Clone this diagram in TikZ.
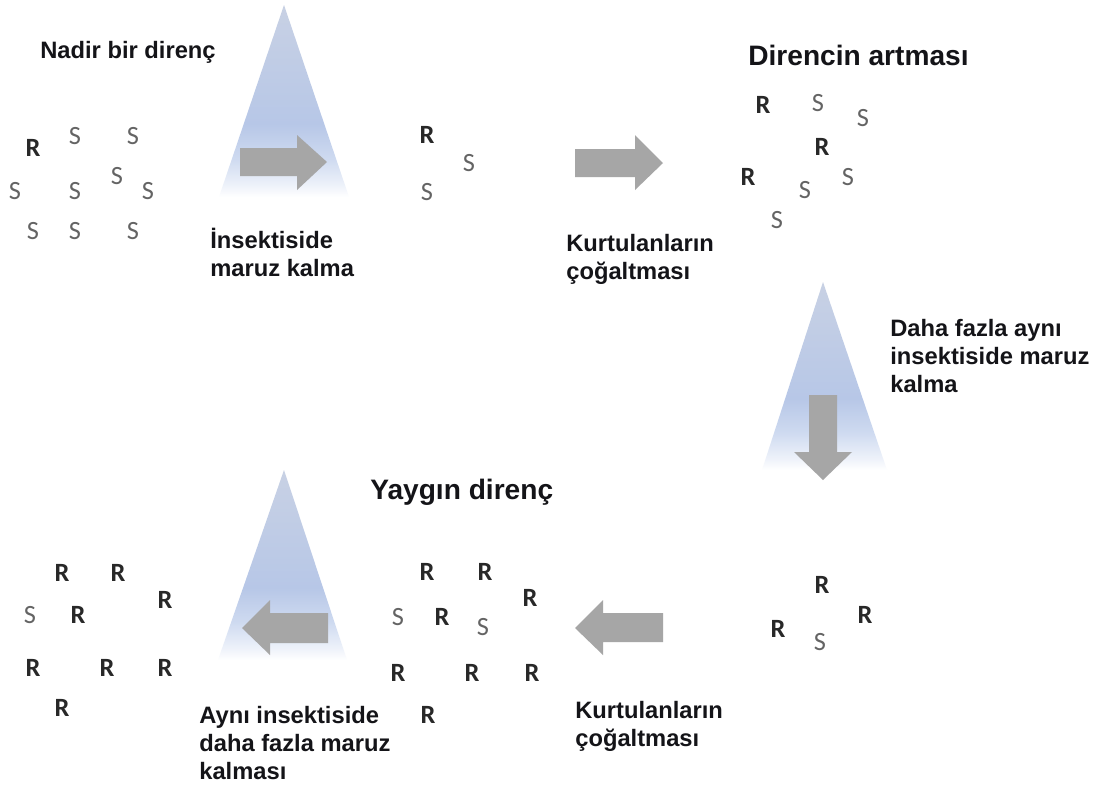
\documentclass[tikz,border=0pt]{standalone}
\usepackage{fontspec}
\setmainfont{Liberation Sans}
\newfontfamily\letterfont{Carlito}
\definecolor{labcol}{RGB}{20,20,24}
\definecolor{rcol}{RGB}{40,40,40}
\definecolor{scol}{RGB}{100,100,100}
\definecolor{arrowgray}{RGB}{166,166,166}
\definecolor{coneA}{RGB}{238,242,250}
\definecolor{coneB}{RGB}{206,218,240}
\definecolor{coneC}{RGB}{183,199,231}
\definecolor{coneD}{RGB}{200,209,228}
\pgfdeclareverticalshading{conefade}{100bp}{color(0bp)=(white); color(25bp)=(white); color(28bp)=(coneA); color(35bp)=(coneB); color(44bp)=(coneC); color(75bp)=(coneD); color(100bp)=(coneD)}
\begin{document}
\begin{tikzpicture}[x=0.02cm,y=-0.02cm,
  lab/.style={anchor=base west, inner sep=0, align=left, text=labcol,
    font=\bfseries\fontsize{13.5}{15.9}\selectfont},
  ttl/.style={anchor=base west, inner sep=0, text=labcol,
    font=\bfseries\fontsize{16}{19}\selectfont},
  rr/.style={inner sep=0, text=rcol, font=\letterfont\bfseries\fontsize{15}{16}\selectfont},
  ss/.style={inner sep=0, text=scol, font=\letterfont\fontsize{15}{16}\selectfont},
  cone/.style={shading=conefade},
  blockarrow/.style={fill=arrowgray, draw=none}]
\useasboundingbox[fill=white] (0,0) rectangle (1100,789);

% cones
\shade[cone] (284,5) -- (349,197) -- (219,197) -- cycle;
\shade[cone] (823,282) -- (887,470) -- (762,470) -- cycle;
\shade[cone] (284,470) -- (347,660) -- (218,660) -- cycle;

% block arrows
\fill[blockarrow] (240,148) -- (297,148) -- (297,135) -- (327,162) -- (297,190) -- (297,176) -- (240,176) -- cycle;
\fill[blockarrow] (575,149) -- (635,149) -- (635,135) -- (663,163) -- (635,190) -- (635,177) -- (575,177) -- cycle;
\fill[blockarrow] (809,395) -- (837,395) -- (837,452) -- (852,452) -- (823,480) -- (794,452) -- (809,452) -- cycle;
\fill[blockarrow] (328,613) -- (270,613) -- (270,600) -- (242,628) -- (270,655) -- (270,643) -- (328,643) -- cycle;
\fill[blockarrow] (663,613) -- (603,613) -- (603,600) -- (575,628) -- (603,655) -- (603,642) -- (663,642) -- cycle;

% titles
\node[lab] (t1) at (40,58) {Nadir bir direnç};
\node[ttl] (t2) at (748,65) {Direncin artması};
\node[ttl] (t3) at (370,499) {Yaygın direnç};

% labels (base anchor = baseline of last line)
\node[lab] (l1) at (210,276) {İnsektiside\\maruz kalma};
\node[lab] (l2) at (566,279) {Kurtulanların\\çoğaltması};
\node[lab] (l3) at (890,392) {Daha fazla aynı\\insektiside maruz\\kalma};
\node[lab] (l4) at (575,746) {Kurtulanların\\çoğaltması};
\node[lab] (l5) at (199,779) {Aynı insektiside\\daha fazla maruz\\kalması};

% group 1
\node[rr] (a1) at (33,148) {R};
\node[ss] (a2) at (75,136) {S};
\node[ss] (a3) at (133,136) {S};
\node[ss] (a4) at (15,191) {S};
\node[ss] (a5) at (75,191) {S};
\node[ss] (a6) at (117,176) {S};
\node[ss] (a7) at (148,191) {S};
\node[ss] (a8) at (33,231) {S};
\node[ss] (a9) at (75,231) {S};
\node[ss] (a10) at (133,231) {S};

% group 2
\node[rr] (b1) at (427,135) {R};
\node[ss] (b2) at (469,163) {S};
\node[ss] (b3) at (427,192) {S};

% group 3
\node[rr] (c1) at (763,105) {R};
\node[ss] (c2) at (818,103) {S};
\node[ss] (c3) at (863,118) {S};
\node[rr] (c4) at (822,147) {R};
\node[rr] (c5) at (748,177) {R};
\node[ss] (c6) at (805,190) {S};
\node[ss] (c7) at (848,177) {S};
\node[ss] (c8) at (777,220) {S};

% group 4
\node[rr] (d1) at (822,585) {R};
\node[rr] (d2) at (865,615) {R};
\node[rr] (d3) at (778,629) {R};
\node[ss] (d4) at (820,642) {S};

% group 5
\node[rr] (e1) at (427,572) {R};
\node[rr] (e2) at (485,572) {R};
\node[rr] (e3) at (530,598) {R};
\node[ss] (e4) at (398,617) {S};
\node[rr] (e5) at (442,617) {R};
\node[ss] (e6) at (483,627) {S};
\node[rr] (e7) at (398,673) {R};
\node[rr] (e8) at (472,673) {R};
\node[rr] (e9) at (532,673) {R};
\node[rr] (e10) at (428,715) {R};

% group 6
\node[rr] (f1) at (62,573) {R};
\node[rr] (f2) at (118,573) {R};
\node[rr] (f3) at (165,600) {R};
\node[ss] (f4) at (30,615) {S};
\node[rr] (f5) at (78,615) {R};
\node[rr] (f6) at (33,668) {R};
\node[rr] (f7) at (107,668) {R};
\node[rr] (f8) at (165,668) {R};
\node[rr] (f9) at (62,708) {R};
\end{tikzpicture}
\end{document}
